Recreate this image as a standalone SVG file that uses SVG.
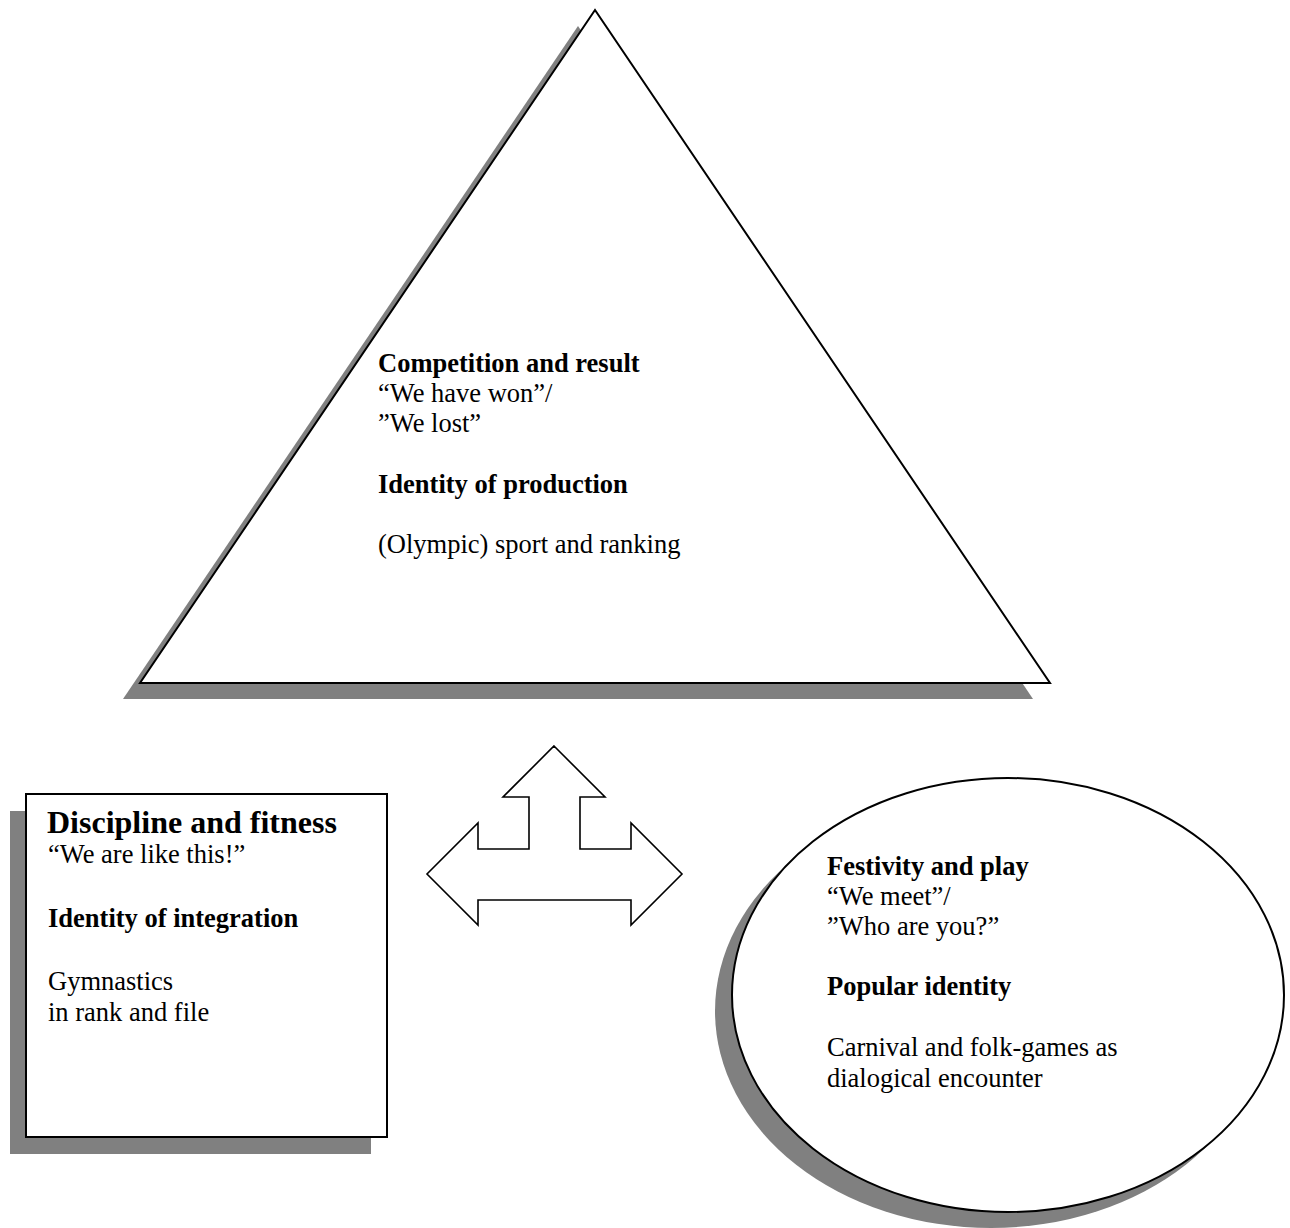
<svg xmlns="http://www.w3.org/2000/svg" width="1290" height="1228" viewBox="0 0 1290 1228">
<style>
.shadow{fill:#808080;stroke:none}
.shape{fill:#ffffff;stroke:#000000;stroke-width:2}
.arrow{fill:#ffffff;stroke:#000000;stroke-width:1.6;stroke-linejoin:miter}
text{font-family:"Liberation Serif","Times New Roman",serif;font-size:26.5px;fill:#000}
.b{font-weight:bold}
.big{font-size:32px;font-weight:bold}
</style>
<rect width="1290" height="1228" fill="#ffffff"/>
<g id="triangle-node">
<polygon class="shadow" points="578,26 123,699 1033,699"/>
<polygon class="shape" points="595,10 140,683 1050,683"/>
<text class="b" x="378" y="372">Competition and result</text>
<text x="378" y="402">“We have won”/</text>
<text x="378" y="432">”We lost”</text>
<text class="b" x="378" y="493">Identity of production</text>
<text x="378" y="553">(Olympic) sport and ranking</text>
</g>
<g id="box-node">
<rect class="shadow" x="10" y="811" width="361" height="343"/>
<rect class="shape" x="26" y="794" width="361" height="343"/>
<text class="big" x="47" y="833">Discipline and fitness</text>
<text x="48" y="863">“We are like this!”</text>
<text class="b" x="48" y="927">Identity of integration</text>
<text x="48" y="990">Gymnastics</text>
<text x="48" y="1021">in rank and file</text>
</g>
<g id="ellipse-node">
<ellipse class="shadow" cx="991" cy="1011" rx="276" ry="217"/>
<ellipse class="shape" cx="1008" cy="995" rx="276" ry="217"/>
<text class="b" x="827" y="875">Festivity and play</text>
<text x="827" y="905">“We meet”/</text>
<text x="827" y="935">”Who are you?”</text>
<text class="b" x="827" y="995">Popular identity</text>
<text x="827" y="1056">Carnival and folk-games as</text>
<text x="827" y="1087">dialogical encounter</text>
</g>
<g id="connectors">
<polygon class="arrow" points="554,746 605,797 580,797 580,849 631,849 631,823 682,874 631,925 631,900 478,900 478,925 427,874 478,823 478,849 529,849 529,797 503,797"/>
</g>
</svg>
